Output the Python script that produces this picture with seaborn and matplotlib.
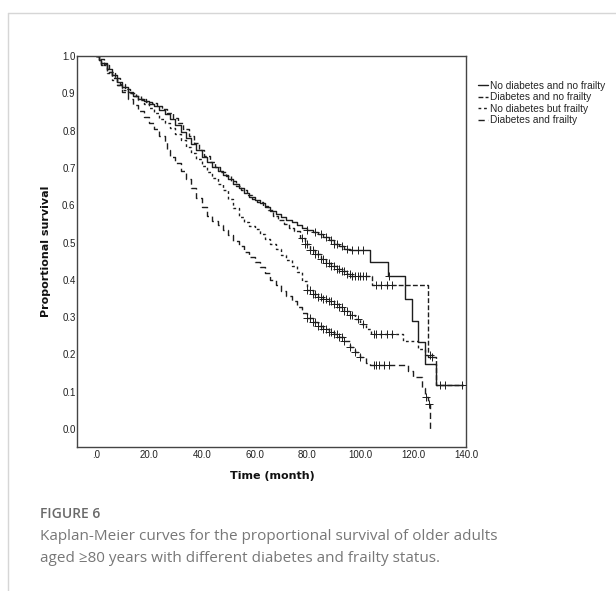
import numpy as np
import pandas as pd
import matplotlib
matplotlib.use("Agg")
import matplotlib.pyplot as plt
from matplotlib.lines import Line2D
import seaborn as sns

# ---------------- data ----------------
groups = ["No diabetes and no frailty", "Diabetes and no frailty",
          "No diabetes but frailty", "Diabetes and frailty"]

A_t = [0, 1, 2, 4, 6, 8, 10, 12, 14, 16, 18, 20, 22, 24, 26, 28, 30, 32, 34, 36, 38, 40,
       42, 44, 46, 48, 50, 52, 54, 56, 58, 60, 62, 64, 66, 68, 70, 72, 74, 76, 78, 80,
       82, 84, 86, 88, 90, 92, 94, 96, 103.7, 110.6, 117, 119.7, 122, 124.5, 128.6, 139]
A_s = [1.0, 0.99, 0.982, 0.965, 0.948, 0.93, 0.916, 0.903, 0.893, 0.886, 0.879, 0.872,
       0.865, 0.856, 0.845, 0.832, 0.815, 0.797, 0.781, 0.765, 0.747, 0.728, 0.715, 0.703,
       0.693, 0.682, 0.67, 0.658, 0.646, 0.632, 0.622, 0.613, 0.605, 0.595, 0.584, 0.576,
       0.568, 0.561, 0.554, 0.547, 0.54, 0.534, 0.529, 0.522, 0.514, 0.506, 0.497, 0.49,
       0.483, 0.48, 0.449, 0.409, 0.349, 0.29, 0.234, 0.174, 0.117, 0.117]

B_t = [0, 1, 3, 5, 7, 9, 11, 13, 15, 17, 19, 21, 23, 25, 27, 29, 31, 33, 35, 37, 39, 41,
       43, 45, 47, 49, 51, 53, 55, 57, 59, 61, 63, 65, 67, 69, 71, 73, 75, 77, 79, 81,
       83, 85, 87, 89, 91, 93, 95, 96.1, 104.3, 125.8, 128.8, 139]
B_s = [1.0, 0.992, 0.975, 0.958, 0.94, 0.925, 0.912, 0.9, 0.892, 0.885, 0.878, 0.873,
       0.867, 0.857, 0.846, 0.834, 0.82, 0.803, 0.786, 0.766, 0.748, 0.732, 0.716, 0.702,
       0.69, 0.678, 0.665, 0.652, 0.64, 0.628, 0.617, 0.608, 0.598, 0.586, 0.572, 0.56,
       0.55, 0.54, 0.53, 0.513, 0.495, 0.48, 0.468, 0.456, 0.445, 0.437, 0.43, 0.423,
       0.415, 0.409, 0.386, 0.194, 0.117, 0.117]

C_t = [0, 1, 2, 4, 6, 8, 10, 12, 14, 16, 18, 20, 22, 24, 26, 28, 30, 32, 34, 36, 38, 40,
       42, 44, 46, 48, 50, 52, 54, 56, 58, 60, 62, 64, 66, 68, 70, 72, 74, 76, 78, 80,
       82, 84, 86, 88, 90, 92, 94, 96, 98, 100, 102, 104, 116.3, 122, 124.5, 127.5]
C_s = [1.0, 0.99, 0.978, 0.955, 0.937, 0.922, 0.91, 0.9, 0.892, 0.882, 0.872, 0.86,
       0.846, 0.832, 0.82, 0.806, 0.79, 0.774, 0.757, 0.74, 0.723, 0.706, 0.69, 0.673,
       0.656, 0.64, 0.618, 0.592, 0.568, 0.556, 0.545, 0.535, 0.522, 0.51, 0.496, 0.482,
       0.467, 0.453, 0.438, 0.421, 0.398, 0.374, 0.362, 0.355, 0.348, 0.342, 0.336, 0.326,
       0.316, 0.306, 0.295, 0.282, 0.268, 0.256, 0.237, 0.216, 0.198, 0.198]

D_t = [0, 1, 2, 4, 6, 8, 10, 12, 14, 16, 18, 20, 22, 24, 26, 27, 28, 30, 32, 34, 36, 38,
       40, 42, 44, 46, 48, 50, 52, 54, 56, 58, 60, 62, 64, 66, 68, 70, 72, 74, 76, 78,
       80, 82, 84, 86, 88, 90, 92, 94, 96, 98, 100, 102, 103.7, 118.2, 120, 123.5, 124.5,
       125.7, 126.3, 126.5]
D_s = [1.0, 0.99, 0.975, 0.958, 0.94, 0.922, 0.903, 0.886, 0.868, 0.852, 0.836, 0.82,
       0.803, 0.786, 0.77, 0.748, 0.73, 0.712, 0.693, 0.67, 0.645, 0.62, 0.595, 0.571,
       0.558, 0.547, 0.533, 0.52, 0.505, 0.49, 0.476, 0.462, 0.449, 0.434, 0.418, 0.4,
       0.386, 0.37, 0.356, 0.342, 0.326, 0.311, 0.298, 0.287, 0.276, 0.268, 0.26, 0.254,
       0.247, 0.235, 0.221, 0.206, 0.192, 0.178, 0.171, 0.155, 0.14, 0.11, 0.086, 0.068,
       0.041, 0.0]

# censored observation times (marked with +)
A_cens = [80, 83, 85, 87, 89, 90, 91, 93, 95, 97, 99, 101, 111, 130, 132, 138.5]
B_cens = [78, 79, 80, 81, 82, 83, 84, 85, 86, 87, 88, 89, 90, 91, 92, 93, 94, 95, 96, 97,
          98, 99, 100, 101, 102, 106, 108, 110, 112, 127]
C_cens = [80, 81, 82, 83, 84, 85, 86, 87, 88, 89, 90, 91, 92, 93, 94, 95, 96, 97, 99, 101,
          105, 106, 108, 110, 112, 126.5]
D_cens = [80, 81, 82, 83, 84, 85, 86, 87, 88, 89, 90, 91, 92, 93, 94, 96, 98, 100, 105,
          106, 107, 109, 111, 125, 126]

x_ticks = [0, 20, 40, 60, 80, 100, 120, 140]
x_ticklabels = [".0", "20.0", "40.0", "60.0", "80.0", "100.0", "120.0", "140.0"]
y_ticks = [0.0, 0.1, 0.2, 0.3, 0.4, 0.5, 0.6, 0.7, 0.8, 0.9, 1.0]
y_ticklabels = ["0.0", "0.1", "0.2", "0.3", "0.4", "0.5", "0.6", "0.7", "0.8", "0.9", "1.0"]

# ---------------- build tables ----------------
curves = [(A_t, A_s, A_cens), (B_t, B_s, B_cens), (C_t, C_s, C_cens), (D_t, D_s, D_cens)]
rows, crows = [], []
for g, (tt, ss, cc) in zip(groups, curves):
    for t, s in zip(tt, ss):
        rows.append((g, t, s))
    tt_a = np.asarray(tt)
    for c in cc:
        idx = np.searchsorted(tt_a, c, side="right") - 1
        crows.append((g, c, ss[idx]))
df = pd.DataFrame(rows, columns=["group", "time", "surv"])
cdf = pd.DataFrame(crows, columns=["group", "time", "surv"])

# ---------------- styling ----------------
sns.set_theme(style="white")
plt.rcParams["font.family"] = ["Liberation Sans", "DejaVu Sans"]

line_col = "#1e1e1e"
dashes = {groups[0]: "", groups[1]: (3.5, 1.6), groups[2]: (2.0, 2.0), groups[3]: (4.5, 2.6)}
lstyles = {groups[0]: "-", groups[1]: (0, (3.5, 1.6)), groups[2]: (0, (2.0, 2.0)),
           groups[3]: (0, (4.5, 2.6))}

fig = plt.figure(figsize=(6.16, 5.91), dpi=100)
fig.patch.set_facecolor("white")
W, H = 616, 591
L, R, T, B = 77, 466, 56, 447
ax = fig.add_axes([L / W, 1 - B / H, (R - L) / W, (B - T) / H])

sns.lineplot(data=df, x="time", y="surv", style="group", dashes=dashes, units="group",
             estimator=None, sort=False, drawstyle="steps-post", color=line_col,
             linewidth=1.0, legend=False, ax=ax)
sns.scatterplot(data=cdf, x="time", y="surv", marker="+", color=line_col, s=26,
                linewidth=0.7, legend=False, ax=ax, zorder=3)

ax.set_xlim(-7.2, 140)
ax.set_ylim(-0.048, 1.0)
ax.set_xticks(x_ticks)
ax.set_xticklabels(x_ticklabels)
ax.set_yticks(y_ticks)
ax.set_yticklabels(y_ticklabels)
ax.tick_params(axis="both", direction="in", length=4.5, width=1.0, color="#3a3a3a",
               labelsize=7, labelcolor="#222222")
ax.tick_params(axis="y", pad=1.0)
ax.tick_params(axis="x", pad=2.0)
for sp in ax.spines.values():
    sp.set_visible(True)
    sp.set_color("#444444")
    sp.set_linewidth(1.0)
ax.set_facecolor("white")
ax.grid(False)

ax.set_xlabel("Time (month)", fontsize=8, fontweight="bold", family="DejaVu Sans",
              color="#111111", va="center")
ax.set_ylabel("Proportional survival", fontsize=8, fontweight="bold", family="DejaVu Sans",
              color="#111111", va="center")
ax.xaxis.set_label_coords((272 - L) / (R - L), (B - 476) / (B - T))
ax.yaxis.set_label_coords((46 - L) / (R - L), 0.5)

handles = [Line2D([], [], color=line_col, lw=1.0, linestyle=lstyles[g]) for g in groups]
ax.legend(handles, groups, loc="upper left",
          bbox_to_anchor=((478 - L) / (R - L), (B - 80.5) / (B - T)),
          frameon=False, fontsize=7.25, handlelength=1.0, handletextpad=0.2,
          labelspacing=0.16, borderpad=0, borderaxespad=0)

# card border
fig.add_artist(Line2D([8 / W, 1.0], [1 - 12.5 / H, 1 - 12.5 / H], transform=fig.transFigure,
                      color="#d6d6d6", lw=1.0))
fig.add_artist(Line2D([8 / W, 8 / W], [0, 1 - 12.5 / H], transform=fig.transFigure,
                      color="#d6d6d6", lw=1.0))

# caption
fig.text(40 / W, 1 - 514 / H, "FIGURE 6", family=["Open Sans", "DejaVu Sans"],
         fontweight="semibold", fontsize=10, color="#6a6a6a", va="center", ha="left")
fig.text(40 / W, 1 - 537 / H,
         "Kaplan-Meier curves for the proportional survival of older adults",
         family=["Open Sans", "DejaVu Sans"], fontsize=11, color="#777777",
         va="center", ha="left")
fig.text(40 / W, 1 - 558 / H,
         "aged \u226580 years with different diabetes and frailty status.",
         family=["Open Sans", "DejaVu Sans"], fontsize=11, color="#777777",
         va="center", ha="left")

fig.savefig("out.png", dpi=100, facecolor="white")
